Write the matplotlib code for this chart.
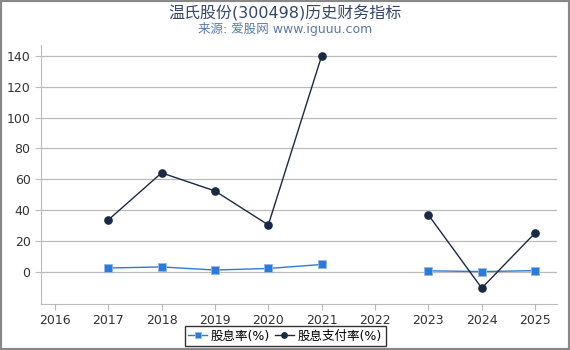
import matplotlib
matplotlib.use("Agg")
import matplotlib.pyplot as plt
from matplotlib.patches import Rectangle
import numpy as np

plt.rcParams['font.family'] = ['DejaVu Sans', 'Noto Sans CJK SC']

years = [2017, 2018, 2019, 2020, 2021, 2023, 2024, 2025]
yield_pct = [2.6, 3.3, 1.3, 2.3, 4.9, 0.8, 0.3, 0.9]
payout_pct = [33.7, 64.2, 52.5, 30.5, 140.0, 37.0, -10.4, 25.3]
xticks = [2016, 2017, 2018, 2019, 2020, 2021, 2022, 2023, 2024, 2025]
yticks = [0, 20, 40, 60, 80, 100, 120, 140]

def split(xs, ys):
    # break line where a year is missing
    out_x, out_y = [], []
    prev = None
    for x, y in zip(xs, ys):
        if prev is not None and x - prev > 1:
            out_x.append(np.nan); out_y.append(np.nan)
        out_x.append(x); out_y.append(y)
        prev = x
    return out_x, out_y

fig = plt.figure(figsize=(5.7, 3.5), dpi=100)
ax = fig.add_axes([41/570, 1-304/350, (557-41)/570, (304-45)/350])

yx, yy = split(years, yield_pct)
px, py = split(years, payout_pct)
ax.plot(yx, yy, color='#2e7bd6', lw=1.0, marker='s', ms=5.5,
        markeredgecolor='#8fb8ea', markeredgewidth=0.6, label='股息率(%)', zorder=3)
ax.plot(px, py, color='#1a2a44', lw=1.0, marker='o', ms=5.2,
        markeredgecolor='#1a2a44', label='股息支付率(%)', zorder=3)

ax.set_xlim(2015.74, 2025.41)
ax.set_ylim(-20.7, 147)
ax.set_xticks(xticks)
ax.set_yticks(yticks)
ax.tick_params(labelsize=9, length=4, width=0.8)
ax.tick_params(axis='x', colors='#bbbbbb', labelcolor='#333333')
ax.tick_params(axis='y', colors='#bbbbbb', labelcolor='#333333')
ax.grid(axis='y', color='#bbbbbb', lw=0.9)
ax.set_axisbelow(True)
for s in ['top', 'right']:
    ax.spines[s].set_visible(False)
for s in ['left', 'bottom']:
    ax.spines[s].set_color('#bbbbbb')
    ax.spines[s].set_linewidth(0.8)

fig.text(0.5, 1-13/350, '温氏股份(300498)历史财务指标', ha='center', va='center',
         fontsize=11.5, color='#34476b')
fig.text(0.5, 1-29/350, '来源: 爱股网 www.iguuu.com', ha='center', va='center',
         fontsize=9, color='#5a7aa6')

leg = fig.legend(loc='center', bbox_to_anchor=(285/570, 1-336/350), ncol=2,
                 fontsize=9, frameon=True, fancybox=False, edgecolor='black',
                 handlelength=1.5, handletextpad=0.3, columnspacing=0.4,
                 borderpad=0.3, borderaxespad=0, markerscale=0.75)
leg.get_frame().set_linewidth(1.0)

fig.patches.append(Rectangle((0, 0), 1, 1, transform=fig.transFigure, fill=False,
                             edgecolor='#888888', lw=3))
fig.savefig('out.png', dpi=100)
